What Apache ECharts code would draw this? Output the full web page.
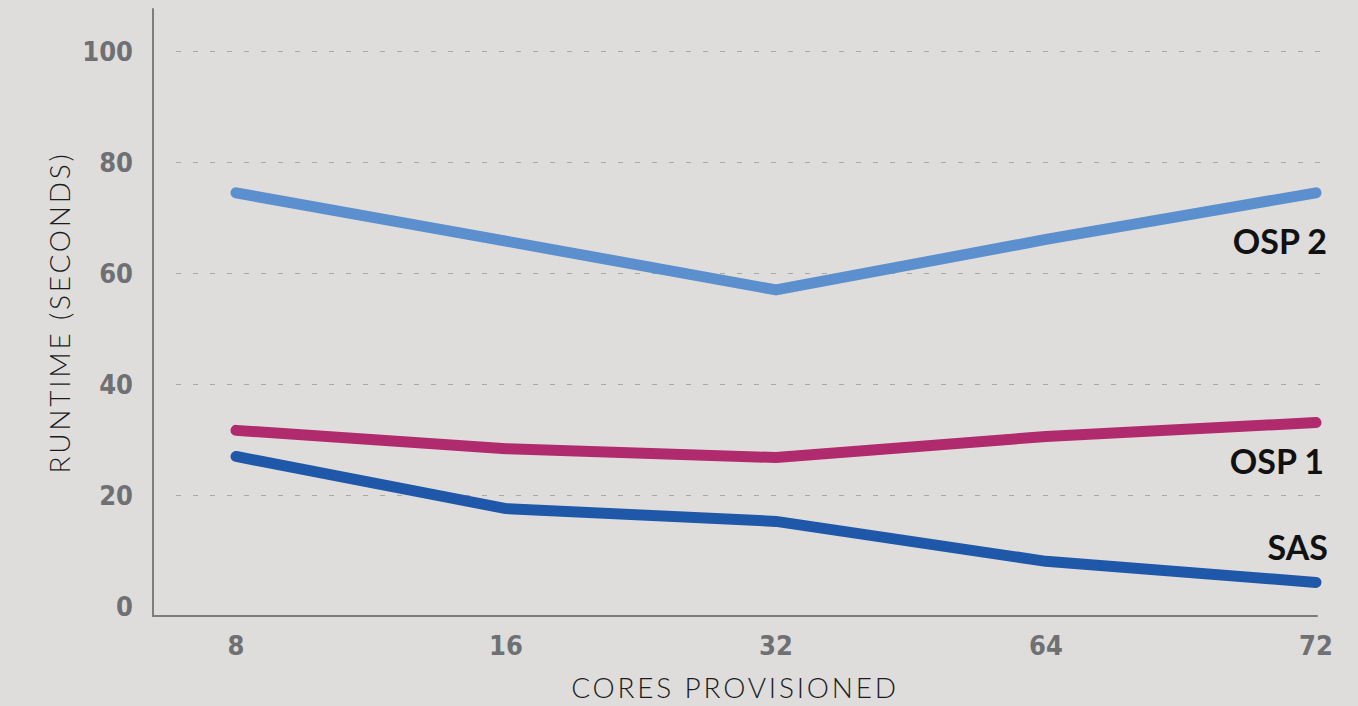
<!DOCTYPE html>
<html>
<head>
<meta charset="utf-8">
<script src="https://cdn.jsdelivr.net/npm/echarts@6/dist/echarts.min.js"></script>
<style>
html,body{margin:0;padding:0;background:#dedddb;}
#chart{width:1358px;height:706px;}
</style>
</head>
<body>
<div id="chart"></div>
<script>
const categories = ['8', '16', '32', '64', '72'];
const osp2 = [74.5, 65.8, 57.0, 66.1, 74.5];
const osp1 = [31.7, 28.4, 26.8, 30.6, 33.1];
const sas = [27.0, 17.6, 15.3, 8.1, 4.3];
const yTicks = [0, 20, 40, 60, 80, 100];
const xTitle = 'CORES PROVISIONED';
const yTitle = 'RUNTIME (SECONDS)';
const seriesNames = ['OSP 2', 'OSP 1', 'SAS'];

const labelFont = {fontFamily: '"DejaVu Sans", sans-serif', fontWeight: 'bold', fontSize: 27, color: '#6f7073'};
const titleFont = {fontFamily: 'Lato, "Open Sans", sans-serif', fontWeight: 300, fontSize: 28, color: '#1b1b1b'};
const seriesFont = {fontFamily: 'Lato, "Noto Sans", sans-serif', fontWeight: 'bold', fontSize: 34, fill: '#111'};

const chart = echarts.init(document.getElementById('chart'), null, {renderer: 'svg'});
chart.setOption({
  backgroundColor: '#dedddb',
  animation: false,
  grid: [
    {left: 236, right: 42, top: 51.3, bottom: 99.7},
    {left: 176, right: 33, top: 51.3, bottom: 99.7},
    {left: 153, right: 41, top: 9, bottom: 87.3}
  ],
  xAxis: [
    {gridIndex: 0, type: 'category', data: categories, boundaryGap: false,
     axisLine: {show: false}, axisTick: {show: false}, splitLine: {show: false},
     axisLabel: Object.assign({margin: 26}, labelFont)},
    {gridIndex: 1, type: 'value', min: 0, max: 1, show: false},
    {gridIndex: 2, type: 'value', min: 0, max: 1,
     axisLine: {show: true, lineStyle: {color: '#7d7d7d', width: 2}},
     axisTick: {show: false}, axisLabel: {show: false}, splitLine: {show: false},
     name: xTitle, nameLocation: 'middle', nameGap: 57, nameTextStyle: titleFont}
  ],
  yAxis: [
    {gridIndex: 0, type: 'value', min: 0, max: 100, show: false},
    {gridIndex: 1, type: 'value', min: yTicks[0], max: yTicks[yTicks.length - 1], interval: 20,
     axisLine: {show: false}, axisTick: {show: false},
     axisLabel: Object.assign({margin: 43}, labelFont),
     splitLine: {show: true, showMinLine: false, lineStyle: {color: '#a8a8a8', width: 1, type: [5, 12]}}},
    {gridIndex: 2, type: 'value', min: 0, max: 1,
     axisLine: {show: true, lineStyle: {color: '#7d7d7d', width: 2}},
     axisTick: {show: false}, axisLabel: {show: false}, splitLine: {show: false},
     name: yTitle, nameLocation: 'middle', nameGap: 80, nameRotate: 90, nameTextStyle: titleFont}
  ],
  series: [
    {name: seriesNames[0], type: 'line', data: osp2, symbol: 'none', xAxisIndex: 0, yAxisIndex: 0,
     lineStyle: {color: '#5b8fcd', width: 11, cap: 'round', join: 'round'}},
    {name: seriesNames[1], type: 'line', data: osp1, symbol: 'none', xAxisIndex: 0, yAxisIndex: 0,
     lineStyle: {color: '#b02a6e', width: 11, cap: 'round', join: 'round'}},
    {name: seriesNames[2], type: 'line', data: sas, symbol: 'none', xAxisIndex: 0, yAxisIndex: 0,
     lineStyle: {color: '#1f58a8', width: 11, cap: 'round', join: 'round'}}
  ],
  graphic: [
    {type: 'text', right: 30, top: 223, style: Object.assign({text: seriesNames[0]}, seriesFont)},
    {type: 'text', right: 33, top: 443, style: Object.assign({text: seriesNames[1]}, seriesFont)},
    {type: 'text', right: 30, top: 529, style: Object.assign({text: seriesNames[2]}, seriesFont)}
  ]
});

const tickTexts = categories.concat(yTicks.map(String));
function styleTexts() {
  document.querySelectorAll('#chart text').forEach(function (t) {
    const s = t.textContent.trim();
    if (s === xTitle || s === yTitle) {
      t.setAttribute('letter-spacing', '2.8px');
      t.style.letterSpacing = '2.8px';
    } else if (tickTexts.indexOf(s) >= 0) {
      t.style.fontStretch = 'condensed';
    }
  });
}
styleTexts();
chart.on('finished', styleTexts);
setTimeout(styleTexts, 50);
setTimeout(styleTexts, 300);
</script>
</body>
</html>
